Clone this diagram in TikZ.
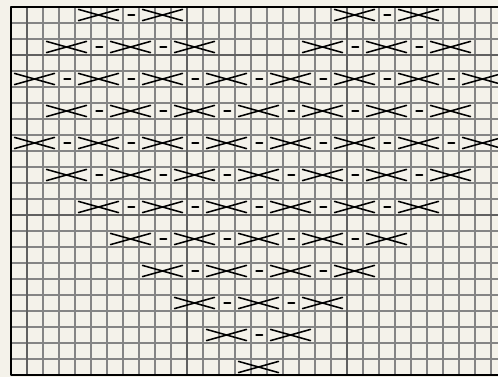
\documentclass[tikz,border=0pt]{standalone}
\definecolor{chartbg}{HTML}{F4F2EA}

\begin{document}
\begin{tikzpicture}[x=0.4cm,y=-0.4cm,line cap=round,line join=round,
  minorline/.style={draw=black!48,line width=.8pt},
  majorline/.style={draw=black!62,line width=1.3pt},
  stitch/.style={draw=black,line width=1.1pt}]
\path[use as bounding box,fill=chartbg] (-0.6875,-0.4375) rectangle (30.4375,23.125);
% grid
\foreach \c in {1,...,30} \draw[minorline] (\c,0)--(\c,23);
\foreach \r in {1,...,22} \draw[minorline] (0,\r)--(31,\r);
\foreach \c in {1,11,21} \draw[majorline] (\c,0)--(\c,23);
\foreach \r in {3,13} \draw[majorline] (0,\r)--(31,\r);
\draw[black,line width=2pt,line cap=butt] (0,0) rectangle (31,23);
% cross stitches and dashes, one row at a time
\foreach \r/\xs/\ds in {0/{4,8,20,24}/{7,23},
    2/{2,6,10,18,22,26}/{5,9,21,25},
    4/{0,4,8,12,16,20,24,28}/{3,7,11,15,19,23,27},
    6/{2,6,10,14,18,22,26}/{5,9,13,17,21,25},
    8/{0,4,8,12,16,20,24,28}/{3,7,11,15,19,23,27},
    10/{2,6,10,14,18,22,26}/{5,9,13,17,21,25},
    12/{4,8,12,16,20,24}/{7,11,15,19,23},
    14/{6,10,14,18,22}/{9,13,17,21},
    16/{8,12,16,20}/{11,15,19},
    18/{10,14,18}/{13,17},
    20/{12,16}/{15}}{
  \foreach \c in \xs
    \draw[stitch] (\c+0.22,\r+0.15)--(\c+2.72,\r+0.85) (\c+0.22,\r+0.85)--(\c+2.72,\r+0.15);
  \foreach \d in \ds
    \draw[stitch] (\d+0.32,\r+0.5)--(\d+0.72,\r+0.5);
}
\draw[stitch] (14.22,22.15)--(16.72,22.85) (14.22,22.85)--(16.72,22.15);
\end{tikzpicture}
\end{document}
